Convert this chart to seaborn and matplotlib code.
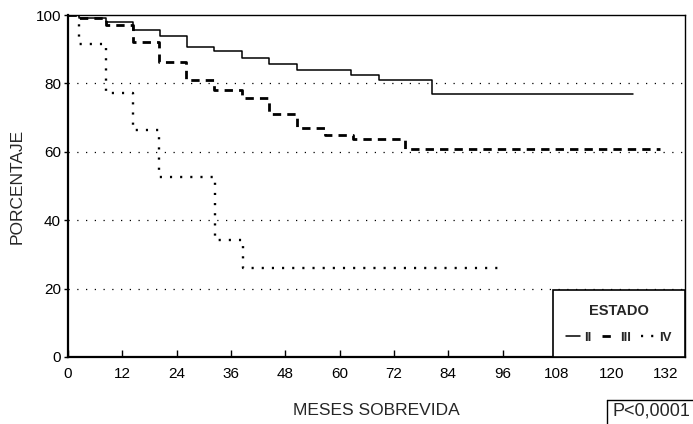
import numpy as np
import pandas as pd
import matplotlib
matplotlib.use("Agg")
import matplotlib.pyplot as plt
import seaborn as sns

# ---- data ----
meses_II = [0, 2.5, 8.4, 14.3, 20.3, 26.2, 32.3, 38.5, 44.5, 50.5, 62.5, 68.6, 80.5, 124.8]
pct_II = [100, 99.2, 98.0, 95.6, 93.8, 90.7, 89.4, 87.4, 85.8, 83.8, 82.6, 81.0, 76.8, 76.8]

meses_III = [0, 2.5, 8.4, 14.3, 20.2, 26.1, 32.3, 38.5, 44.5, 50.5, 56.7, 63.0, 74.5, 130.8]
pct_III = [100, 99.2, 97.1, 92.1, 86.2, 81.0, 78.0, 75.8, 71.0, 67.1, 64.8, 63.7, 60.8, 60.8]

meses_IV = [0, 2.5, 8.4, 14.3, 20.2, 32.5, 38.6, 95.5]
pct_IV = [100, 91.4, 77.3, 66.3, 52.6, 34.1, 25.9, 25.9]

estados = ["II", "III", "IV"]
x_ticks = [0, 12, 24, 36, 48, 60, 72, 84, 96, 108, 120, 132]
y_ticks = [0, 20, 40, 60, 80, 100]
grid_levels = [20, 40, 60, 80]

df = pd.concat([
    pd.DataFrame({"mes": meses_II, "pct": pct_II, "estado": "II"}),
    pd.DataFrame({"mes": meses_III, "pct": pct_III, "estado": "III"}),
    pd.DataFrame({"mes": meses_IV, "pct": pct_IV, "estado": "IV"}),
], ignore_index=True)

sns.set_theme(style="white")
plt.rcParams["font.family"] = ["Liberation Sans", "DejaVu Sans"]

fig = plt.figure(figsize=(6.93, 4.24), dpi=100)
ax = fig.add_axes([68 / 693, 67 / 424, 617 / 693, 342 / 424])

styles = {
    "II": dict(lw=1.1, ls="-"),
    "III": dict(lw=2.0, ls=(0, (3.0, 2.2))),
    "IV": dict(lw=1.7, ls=(0, (0.9, 3.4))),
}

for lev in grid_levels:
    ax.axhline(lev, color="black", lw=0.9, ls=(0, (1, 6)), zorder=1)

for est in estados:
    sub = df[df["estado"] == est]
    sns.lineplot(data=sub, x="mes", y="pct", ax=ax, color="black",
                 drawstyle="steps-post", estimator=None, sort=False,
                 linewidth=styles[est]["lw"], linestyle=styles[est]["ls"],
                 label=est, zorder=3)

ax.set_xlim(0, 136.3)
ax.set_ylim(0, 100)
ax.set_xticks(x_ticks)
ax.set_yticks(y_ticks)
ax.set_xticklabels([str(t) for t in x_ticks], fontsize=11)
ax.set_yticklabels([str(t) for t in y_ticks], fontsize=11)
ax.tick_params(axis="x", direction="in", length=5, width=1, pad=7, colors="black",
               bottom=True)
ax.tick_params(axis="y", direction="out", length=3, width=1, pad=2, colors="black",
               left=True)

for side in ["left", "bottom"]:
    ax.spines[side].set_linewidth(1.6)
    ax.spines[side].set_color("black")
for side in ["top", "right"]:
    ax.spines[side].set_linewidth(1.0)
    ax.spines[side].set_color("black")

ax.set_xlabel("MESES SOBREVIDA", fontsize=12.5, labelpad=16)
ax.set_ylabel("PORCENTAJE", fontsize=12.5, labelpad=8)

leg = ax.legend(title="ESTADO", loc="lower right", ncol=3, fontsize=9.5,
                handlelength=1.1, handletextpad=0.3, columnspacing=0.75,
                borderaxespad=0, borderpad=1.0, frameon=True, fancybox=False,
                edgecolor="black", framealpha=1, labelspacing=0.3)
leg.get_title().set_fontweight("bold")
leg.get_title().set_fontsize(10.5)
for t in leg.get_texts():
    t.set_fontweight("bold")
leg.get_frame().set_linewidth(1.2)
leg._legend_box.sep = 10

fig.text(651 / 693, 1 - 411 / 424, "P<0,0001", fontsize=13, ha="center", va="center")
fig.add_artist(plt.Line2D([607 / 693, 607 / 693], [0, 1 - 400 / 424],
                          transform=fig.transFigure, color="black", lw=1))
fig.add_artist(plt.Line2D([607 / 693, 1], [1 - 400 / 424, 1 - 400 / 424],
                          transform=fig.transFigure, color="black", lw=1))

fig.savefig("out.png", dpi=100)
